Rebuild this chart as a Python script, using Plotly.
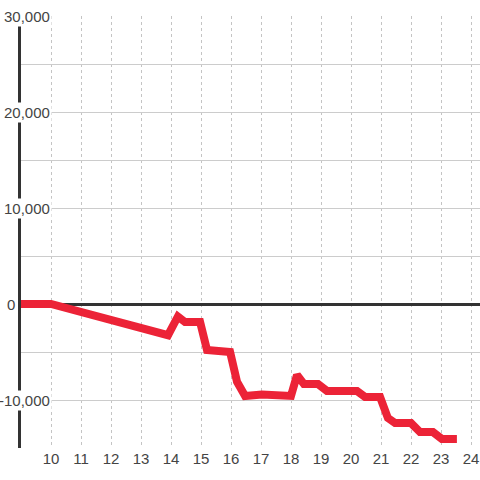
import plotly.graph_objects as go

# data
x_vals = [9, 10, 13.9, 14.23, 14.47, 14.97, 15.2, 15.97, 16.2, 16.47, 17.03, 17.63, 18.0,
          18.2, 18.43, 18.9, 19.2, 20.2, 20.47, 20.97, 21.23, 21.47, 22.0, 22.3, 22.73,
          23.03, 23.53]
y_vals = [0, 0, -3250, -1300, -1880, -1880, -4800, -5000, -8100, -9580, -9430, -9580, -9580,
          -7400, -8330, -8330, -9060, -9060, -9690, -9690, -11880, -12400, -12400, -13330,
          -13330, -14060, -14060]

x_ticks = list(range(10, 25))
y_label_vals = [30000, 20000, 10000, 0, -10000]
y_label_text = ["30,000", "20,000", "10,000", "0", "-10,000"]
y_grid_vals = list(range(-15000, 30001, 5000))

FONT = "Liberation Sans, Arial, sans-serif"

fig = go.Figure()
fig.add_trace(go.Scatter(
    x=x_vals, y=y_vals, mode="lines",
    line=dict(color="#ec2337", width=8),
    hoverinfo="skip",
))

for v, t in zip(y_label_vals, y_label_text):
    fig.add_annotation(
        x=0, xref="paper", y=v, yref="y",
        text=t, showarrow=False, xanchor="right", yanchor="middle",
        xshift=(-4 if v == 0 else 31),
        bgcolor="white", borderpad=1,
        font=dict(family=FONT, size=15, color="#444"),
    )

fig.update_layout(
    width=480, height=480,
    margin=dict(l=21, r=0, t=16, b=32),
    paper_bgcolor="white", plot_bgcolor="white",
    showlegend=False,
    xaxis=dict(
        range=[9, 24.3],
        tickvals=x_ticks, ticktext=[str(t) for t in x_ticks],
        showgrid=True, gridcolor="#c4c4c4", gridwidth=1, griddash="3px,3px",
        zeroline=False, showline=False, ticks="",
        tickfont=dict(family=FONT, size=15, color="#444"),
    ),
    yaxis=dict(
        range=[-15000, 30000],
        tickvals=y_grid_vals, showticklabels=False,
        showgrid=True, gridcolor="#cccccc", gridwidth=1,
        zeroline=True, zerolinecolor="#333333", zerolinewidth=3,
        showline=True, linecolor="#333333", linewidth=3, ticks="",
    ),
)

fig.write_html(
    "out.html",
    config={"displayModeBar": False},
    post_script="document.body.style.margin='0';document.body.style.overflow='hidden';",
)
